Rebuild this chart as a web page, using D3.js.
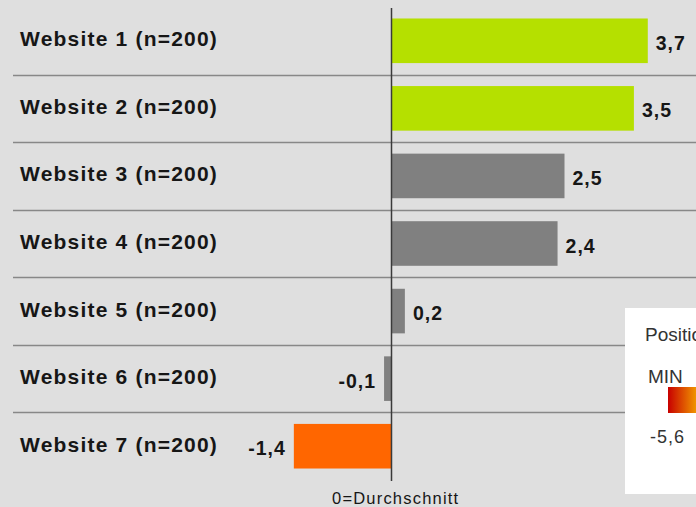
<!DOCTYPE html>
<html>
<head>
<meta charset="utf-8">
<script src="https://cdn.jsdelivr.net/npm/d3@7"></script>
<style>
body { margin: 0; background: #dfdfdf; }
svg { display: block; font-family: Arial, "Liberation Sans", sans-serif; }
</style>
</head>
<body>
<div id="chart"></div>
<script>
var sites = ["Website 1 (n=200)", "Website 2 (n=200)", "Website 3 (n=200)", "Website 4 (n=200)",
             "Website 5 (n=200)", "Website 6 (n=200)", "Website 7 (n=200)"];
var values = [3.7, 3.5, 2.5, 2.4, 0.2, -0.1, -1.4];
var barColors = ["#b5e000", "#b5e000", "#808080", "#808080", "#808080", "#808080", "#ff6600"];

var width = 696, height = 507;
margin = ({top: 7, bottom: 27, left: 13});

var svg = d3.select("#chart").append("svg")
  .attr("width", width)
  .attr("height", height);

svg.append("rect").attr("width", width).attr("height", height).style("fill", "#dfdfdf");

// y bands
var y = d3.scaleBand()
  .domain(sites)
  .range([margin.top, height - margin.bottom])
  .paddingInner(0.34)
  .paddingOuter(0.17);

var step = y.step();

// x scale, zero at 391
var x = d3.scaleLinear()
  .domain([-1.4, 3.7])
  .range([391 - 1.4 * 69.4, 391 + 3.7 * 69.4]);

// row separators
svg.selectAll("line.sep")
  .data(sites.slice(1))
  .join("line")
  .attr("x1", margin.left).attr("x2", width)
  .attr("y1", d => Math.round(y(d) - y.paddingInner() * step / 2) + 0.5)
  .attr("y2", d => Math.round(y(d) - y.paddingInner() * step / 2) + 0.5)
  .style("stroke", "#888")
  .style("stroke-width", 1.5);

// bars
svg.selectAll("rect.bar")
  .data(values)
  .join("rect")
  .attr("class", "bar")
  .attr("x", d => x(Math.min(0, d)))
  .attr("y", (d, i) => y(sites[i]))
  .attr("width", d => Math.abs(x(d) - x(0)))
  .attr("height", y.bandwidth())
  .style("fill", (d, i) => barColors[i]);

// site labels
svg.selectAll("text.site")
  .data(sites)
  .join("text")
  .attr("x", 20)
  .attr("y", d => y(d) + y.bandwidth() / 2 + 5.5)
  .style("font-size", "21px")
  .style("font-weight", "bold")
  .style("letter-spacing", "1.2px")
  .style("fill", "#161616")
  .text(d => d);

// value labels
svg.selectAll("text.val")
  .data(values)
  .join("text")
  .attr("x", d => d >= 0 ? x(d) + 8 : x(d) - 8)
  .attr("y", (d, i) => y(sites[i]) + y.bandwidth() / 2 + 9)
  .attr("text-anchor", d => d >= 0 ? "start" : "end")
  .style("font-size", "19.5px")
  .style("font-weight", "bold")
  .style("letter-spacing", "1px")
  .style("fill", "#161616")
  .text(d => d3.format(".1f")(d).replace(".", ",").replace("\u2212", "-"));

// zero axis
svg.append("line")
  .attr("x1", x(0) + 0.5).attr("x2", x(0) + 0.5)
  .attr("y1", 8).attr("y2", 481)
  .style("stroke", "#3a3a3a")
  .style("stroke-width", 1.5);

svg.append("text")
  .attr("x", x(0) - 59)
  .attr("y", 504)
  .style("font-size", "16.5px")
  .style("letter-spacing", "1.2px")
  .style("fill", "#161616")
  .text("0=Durchschnitt");

// legend
var defs = svg.append("defs");
var grad = defs.append("linearGradient").attr("id", "grad");
grad.append("stop").attr("offset", "0%").attr("stop-color", "#c80000");
grad.append("stop").attr("offset", "100%").attr("stop-color", "#f09400");

svg.append("rect").attr("x", 625).attr("y", 308).attr("width", 100).attr("height", 186).style("fill", "#fff");
svg.append("text").attr("x", 645).attr("y", 341).style("font-size", "19px").style("fill", "#333").text("Position");
svg.append("text").attr("x", 648).attr("y", 383).style("font-size", "19px").style("fill", "#333").text("MIN");
svg.append("rect").attr("x", 668).attr("y", 387).attr("width", 28).attr("height", 26).style("fill", "url(#grad)");
svg.append("text").attr("x", 650).attr("y", 443).style("font-size", "18px").style("letter-spacing", "1px").style("fill", "#333").text("-5,6");
</script>
</body>
</html>
